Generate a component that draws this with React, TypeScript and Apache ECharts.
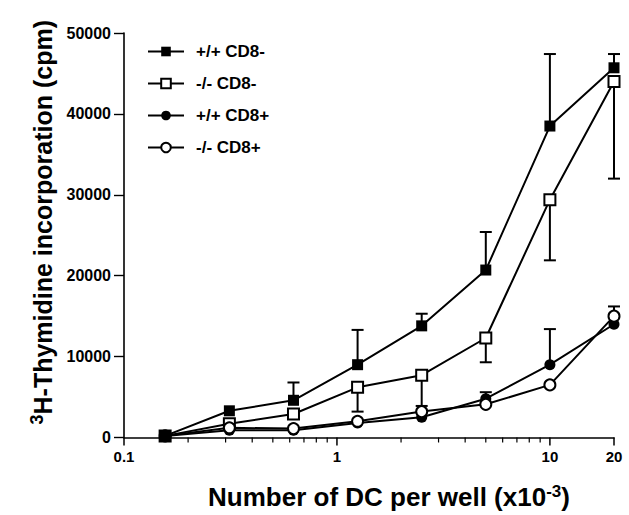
import React, { useEffect, useRef } from "react";
import * as echarts from "echarts";

const doses = [0.156, 0.3125, 0.625, 1.25, 2.5, 5, 10, 20];
const seriesNames = ["+/+ CD8-", "-/- CD8-", "+/+ CD8+", "-/- CD8+"];
const wtCD8neg = [200, 3300, 4600, 9000, 13800, 20700, 38500, 45700];
const koCD8neg = [200, 1700, 2900, 6200, 7700, 12300, 29400, 44000];
const wtCD8pos = [200, 900, 900, 1800, 2500, 4800, 9000, 14000];
const koCD8pos = [200, 1200, 1100, 2000, 3200, 4100, 6500, 15000];
// error-bar end values (null = no bar drawn)
const wtCD8negErr = [null, null, 6800, 13300, 15300, 25400, 47400, 47400];
const koCD8negErr = [null, null, null, 3200, 3900, 9300, 21900, 32000];
const wtCD8posErr = [null, null, null, null, null, 5600, 13400, null];
const koCD8posErr = [null, null, null, null, null, null, null, 16200];
const xMajorTicks = [0.1, 1, 10, 20];
const xTickLabels = ["0.1", "1", "10", "20"];
const xMinorTicks = [0.2, 0.3, 0.4, 0.5, 0.6, 0.7, 0.8, 0.9, 2, 3, 4, 5, 6, 7, 8, 9];

const FONT = "'Liberation Sans', Arial, Helvetica, sans-serif";

export default function App() {
  const ref = useRef<HTMLDivElement>(null);
  useEffect(() => {
    if (!ref.current) return;
    const chart = echarts.init(ref.current, null, { renderer: "svg" });
    const vals = [wtCD8neg, koCD8neg, wtCD8pos, koCD8pos];
    const errs = [wtCD8negErr, koCD8negErr, wtCD8posErr, koCD8posErr];
    const symbols = ["rect", "emptyRect", "circle", "emptyCircle"];

    const lineSeries = vals.map((v, i) => ({
      name: seriesNames[i],
      type: "line",
      data: doses.map((d, j) => [d, v[j]]),
      symbol: symbols[i],
      symbolSize: 11,
      showSymbol: true,
      lineStyle: { color: "#000", width: 2 },
      itemStyle: { color: "#000", borderColor: "#000", borderWidth: i % 2 === 1 ? 1.6 : 0 },
      z: i === 0 ? 6 : 4,
    }));

    const errData: any[] = [];
    errs.forEach((e, i) => {
      e.forEach((end, j) => {
        if (end !== null) errData.push([doses[j], vals[i][j], end]);
      });
    });

    const errSeries = {
      name: "errorbars",
      type: "custom",
      clip: false,
      z: 3,
      encode: { x: 0, y: 1 },
      data: errData,
      renderItem: (params: any, api: any) => {
        const x = api.value(0);
        const y = api.value(1);
        const e = api.value(2);
        const p = api.coord([x, y]);
        const q = api.coord([x, e]);
        const w = 6;
        return {
          type: "group",
          children: [
            { type: "line", shape: { x1: p[0], y1: p[1], x2: q[0], y2: q[1] }, style: { stroke: "#000", lineWidth: 2 } },
            { type: "line", shape: { x1: q[0] - w, y1: q[1], x2: q[0] + w, y2: q[1] }, style: { stroke: "#000", lineWidth: 2 } },
          ],
        };
      },
    };

    chart.setOption({
      animation: false,
      backgroundColor: "#fff",
      textStyle: { fontFamily: FONT },
      grid: { left: 124, right: 15, top: 33, bottom: 77 },
      legend: {
        data: seriesNames,
        orient: "vertical",
        left: 142,
        top: 38,
        itemWidth: 36,
        itemHeight: 12,
        itemGap: 15,
        textStyle: { fontFamily: FONT, fontWeight: "bold", fontSize: 17, color: "#000", padding: [0, 0, 0, 7] },
      },
      xAxis: {
        type: "log",
        logBase: 10,
        min: 0.1,
        max: 20,
        name: "{main|Number of DC per well (x10}{sup|-3}{main|)}",
        nameLocation: "middle",
        nameGap: 45,
        nameTextStyle: {
          padding: [0, 0, 0, 40],
          rich: {
            main: { fontFamily: FONT, fontWeight: "bold", fontSize: 26, color: "#000" },
            sup: { fontFamily: FONT, fontWeight: "bold", fontSize: 17, color: "#000", verticalAlign: "top", padding: [0, 0, 12, 0] },
          },
        },
        axisLine: { show: true, lineStyle: { color: "#000", width: 1.6 } },
        axisTick: { show: false },
        axisLabel: {
          customValues: xMajorTicks,
          margin: 11,
          fontFamily: FONT,
          fontWeight: "bold",
          fontSize: 15,
          color: "#000",
          formatter: (v: number) => {
            let best = 0;
            xMajorTicks.forEach((t, i) => {
              if (Math.abs(Math.log10(t) - Math.log10(v)) < Math.abs(Math.log10(xMajorTicks[best]) - Math.log10(v))) best = i;
            });
            return xTickLabels[best];
          },
        },
        splitLine: { show: false },
        minorTick: { show: false },
      },
      yAxis: {
        type: "value",
        min: 0,
        max: 50000,
        interval: 10000,
        name: "{sup|3}{main|H-Thymidine incorporation (cpm)}",
        nameLocation: "middle",
        nameRotate: 90,
        nameGap: 60,
        nameTextStyle: {
          padding: [0, 0, 0, 26],
          rich: {
            main: { fontFamily: FONT, fontWeight: "bold", fontSize: 25, color: "#000" },
            sup: { fontFamily: FONT, fontWeight: "bold", fontSize: 18, color: "#000", verticalAlign: "top", padding: [0, 0, 12, 0] },
          },
        },
        axisLine: { show: true, lineStyle: { color: "#000", width: 1.6 } },
        axisTick: { show: true, length: 10, lineStyle: { color: "#000", width: 1.4 } },
        axisLabel: {
          margin: 13,
          fontFamily: FONT,
          fontWeight: "bold",
          fontSize: 16,
          color: "#000",
          formatter: (v: number) => String(v),
        },
        splitLine: { show: false },
      },
      series: [...lineSeries, errSeries],
    });

    // x-axis ticks (major and minor) positioned through the axis scale
    const y0 = chart.convertToPixel({ yAxisIndex: 0 }, 0) as number;
    const tickDefs = [
      ...xMajorTicks.map((v) => ({ v, len: 8, w: 1.5 })),
      ...xMinorTicks.map((v) => ({ v, len: 5, w: 1.2 })),
    ];
    chart.setOption({
      graphic: tickDefs.map((t) => {
        const x = chart.convertToPixel({ xAxisIndex: 0 }, t.v) as number;
        return {
          type: "line",
          silent: true,
          shape: { x1: x, y1: y0, x2: x, y2: y0 + t.len },
          style: { stroke: "#000", lineWidth: t.w },
        };
      }),
    });
    return () => chart.dispose();
  }, []);
  return <div ref={ref} style={{ width: 629, height: 515, position: "absolute", left: 0, top: 0 }} />;
}
